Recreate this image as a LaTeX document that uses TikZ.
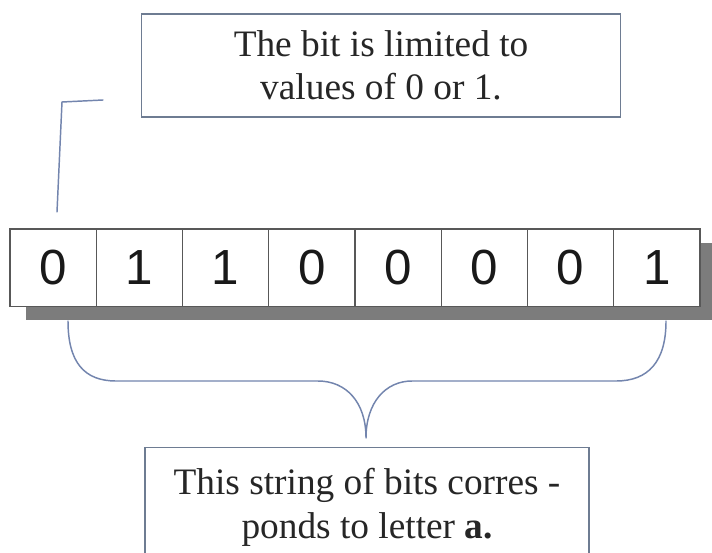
\documentclass[tikz,border=0pt]{standalone}
\usepackage{fontspec}
\setmainfont{Liberation Serif}
\newfontfamily\digitfont{Liberation Sans}
\definecolor{boxline}{HTML}{6E7C92}
\definecolor{calloutline}{HTML}{7385AE}
\definecolor{cellline}{HTML}{585858}
\definecolor{shadowgray}{HTML}{7C7C7C}
\definecolor{inktext}{HTML}{262626}
\tikzset{
  notebox/.style={draw=boxline, line width=1.1pt, fill=white, align=center,
    font=\fontsize{28}{32.5}\selectfont, text=inktext},
  bitcell/.style={draw=cellline, line width=1pt, fill=white,
    minimum width=64.7pt, minimum height=58pt, inner sep=0pt,
    font=\digitfont\fontsize{37}{40}\selectfont, text=black!90},
  guide/.style={draw=calloutline, line width=1.1pt, line cap=round, line join=round}
}
\begin{document}
\begin{tikzpicture}[x=0.75pt,y=-0.75pt]
  \useasboundingbox (0,0) rectangle (712,552);
  \clip (0,0) rectangle (712,552);
  \fill[white] (0,0) rectangle (712,552);

  % upper note
  \node[notebox, minimum width=359pt, minimum height=77pt] (topnote) at (381,65.5)
    {The bit is limited to\\ values of 0 or 1.};

  % callout bracket pointing at the first bit
  \coordinate (calloutfoot) at (57,212);
  \coordinate (calloutbend) at (62,102);
  \coordinate (callouttip) at (103,100);
  \draw[guide] (calloutfoot) -- (calloutbend) -- (callouttip);

  % drop shadow under the byte
  \fill[shadowgray] (26,243) rectangle (714,320);

  % the eight bits
  \foreach \b [count=\i] in {0,1,1,0,0,0,0,1} {
    \node[bitcell] (bit\i) at ({10+86.25*(\i-0.5)},267.5) {\b};
  }

  % curly brace spanning the byte
  \coordinate (braceleft) at (68,321);
  \coordinate (braceright) at (666,321);
  \coordinate (bracetip) at (366,438);
  \draw[guide]
    (braceleft) .. controls (68,362) and (84,381) .. (116,381)
    -- (318,381) .. controls (346,381) and (366,402) .. (bracetip)
    .. controls (366,402) and (386,381) .. (412,381)
    -- (616,381) .. controls (648,381) and (666,362) .. (braceright);

  % lower note, running past the bottom edge
  \node[notebox, anchor=north, minimum width=333pt, inner ysep=15pt,
        font=\fontsize{28}{33}\selectfont] (bottomnote) at (367,447)
    {This string of bits corres -\\ ponds to letter \textbf{a.}\\[30pt]};
\end{tikzpicture}
\end{document}
